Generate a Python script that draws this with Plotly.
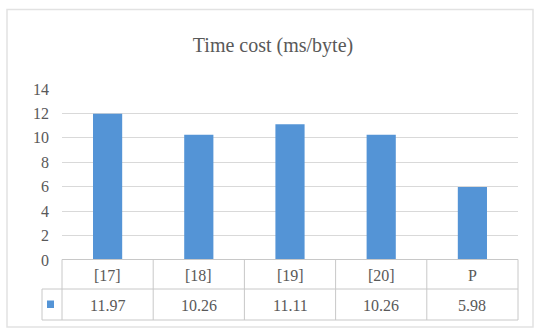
import plotly.graph_objects as go

# Data
categories = ["[17]", "[18]", "[19]", "[20]", "P"]
time_cost = [11.97, 10.26, 11.11, 10.26, 5.98]
y_ticks = [0, 2, 4, 6, 8, 10, 12, 14]
title_text = "Time cost (ms/byte)"

W, H = 534, 331
ML, MR, MT, MB = 62, 16, 89, 71
PW, PH = W - ML - MR, H - MT - MB

BAR_COLOR = "#5494d6"
TEXT_COLOR = "#595959"
GRID_COLOR = "#d9d9d9"
TABLE_LINE = "#c8c8c8"
FONT = "Liberation Serif"


def px_x(px):
    """Pixel x -> paper x."""
    return (px - ML) / PW


def px_y(py):
    """Pixel y -> paper y."""
    return (H - MB - py) / PH


fig = go.Figure(
    go.Bar(
        x=categories,
        y=time_cost,
        marker=dict(color=BAR_COLOR, line=dict(width=0)),
        width=0.32,
        showlegend=False,
        hoverinfo="x+y",
    )
)

n = len(categories)
col_w = PW / n

# Data table under the plot: row lines and column lines
row_top, row_mid, row_bot = 259.5, 289, 320
legend_left = 42
shapes = []
line = dict(color=TABLE_LINE, width=1)
shapes.append(dict(type="line", xref="paper", yref="paper",
                   x0=px_x(ML), x1=px_x(ML + PW), y0=px_y(row_top), y1=px_y(row_top), line=line))
shapes.append(dict(type="line", xref="paper", yref="paper",
                   x0=px_x(legend_left), x1=px_x(ML + PW), y0=px_y(row_mid), y1=px_y(row_mid), line=line))
shapes.append(dict(type="line", xref="paper", yref="paper",
                   x0=px_x(legend_left), x1=px_x(ML + PW), y0=px_y(row_bot), y1=px_y(row_bot), line=line))
shapes.append(dict(type="line", xref="paper", yref="paper",
                   x0=px_x(legend_left), x1=px_x(legend_left), y0=px_y(row_mid), y1=px_y(row_bot), line=line))
for i in range(n + 1):
    xp = ML + i * col_w
    shapes.append(dict(type="line", xref="paper", yref="paper",
                       x0=px_x(xp), x1=px_x(xp), y0=px_y(row_top), y1=px_y(row_bot), line=line))

# Series key in the table
shapes.append(dict(type="rect", xref="paper", yref="paper",
                   x0=px_x(47), x1=px_x(54), y0=px_y(300.5), y1=px_y(308),
                   fillcolor=BAR_COLOR, line=dict(width=0)))

# Outer chart frame
shapes.append(dict(type="rect", xref="paper", yref="paper",
                   x0=px_x(7), x1=px_x(533), y0=px_y(9.5), y1=px_y(327),
                   fillcolor="rgba(0,0,0,0)", line=dict(color="#e2e2e2", width=1.5),
                   layer="below"))

annotations = []
for cat, val in zip(categories, time_cost):
    annotations.append(dict(x=cat, xref="x", y=px_y(275), yref="paper", text=cat,
                            showarrow=False, yanchor="middle",
                            font=dict(family=FONT, size=16, color=TEXT_COLOR)))
    annotations.append(dict(x=cat, xref="x", y=px_y(305), yref="paper", text=f"{val:.2f}",
                            showarrow=False, yanchor="middle",
                            font=dict(family=FONT, size=16, color=TEXT_COLOR)))

fig.update_layout(
    width=W,
    height=H,
    margin=dict(l=ML, r=MR, t=MT, b=MB),
    paper_bgcolor="white",
    plot_bgcolor="white",
    font=dict(family=FONT),
    title=dict(text=title_text, x=273 / W, xref="container", xanchor="center",
               y=1 - 45 / H, yref="container", yanchor="middle",
               font=dict(family=FONT, size=20, color=TEXT_COLOR)),
    xaxis=dict(showticklabels=False, showline=False, showgrid=False, zeroline=False,
               range=[-0.5, n - 0.5], fixedrange=True),
    yaxis=dict(range=[0, 14], tickvals=y_ticks, showgrid=True, gridcolor=GRID_COLOR,
               gridwidth=1, zeroline=False, showline=False, ticks="",
               ticklabelstandoff=12,
               tickfont=dict(family=FONT, size=16, color=TEXT_COLOR), fixedrange=True),
    shapes=shapes,
    annotations=annotations,
    bargap=0.68,
)

fig.write_html("out.html")
